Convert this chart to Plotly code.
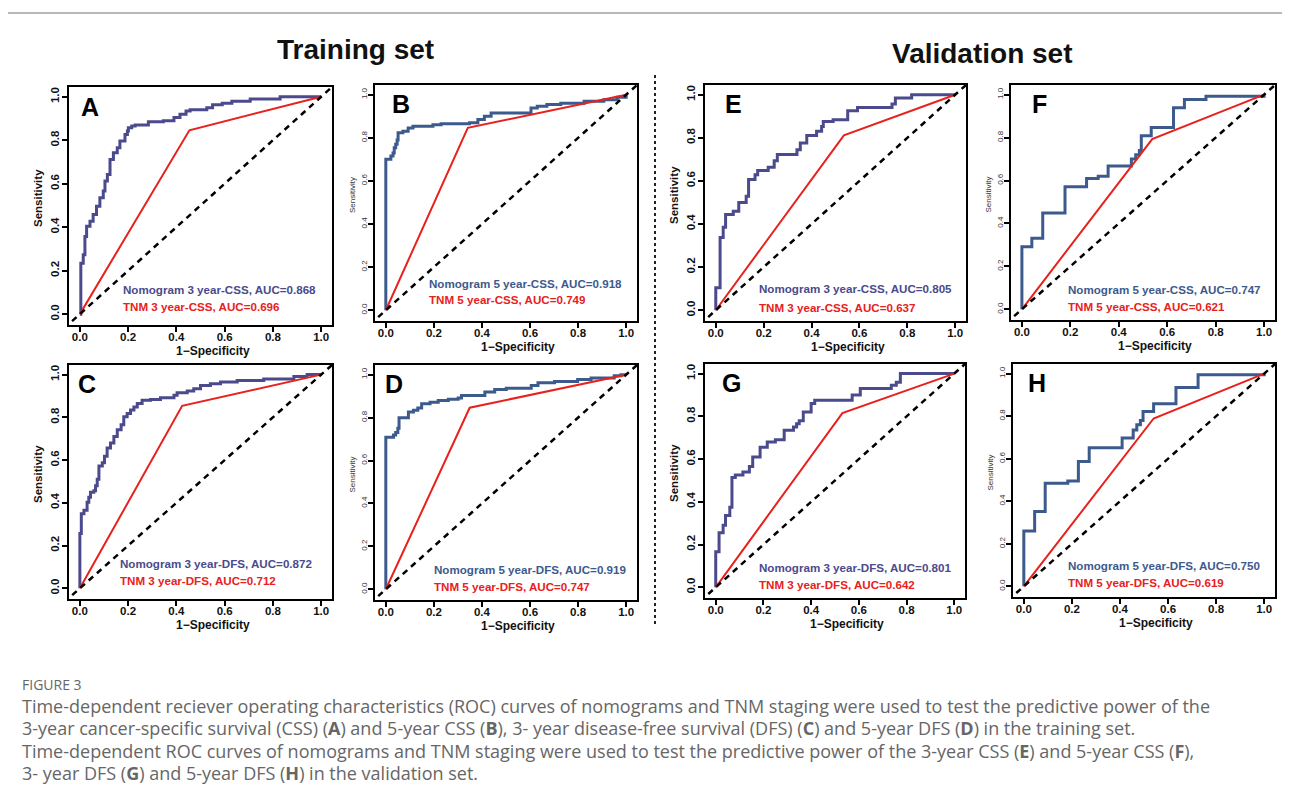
import plotly.graph_objects as go

# ---------------- data ----------------
tick_vals = [0.0, 0.2, 0.4, 0.6, 0.8, 1.0]
tick_text = ["0.0", "0.2", "0.4", "0.6", "0.8", "1.0"]

# Panel A (training, 3-year CSS)
A_nomo_x = [0, 0.004, 0.004, 0.014, 0.021, 0.028, 0.042, 0.055, 0.069, 0.083, 0.097, 0.104, 0.114, 0.125, 0.139,
            0.155, 0.166, 0.187, 0.197, 0.201, 0.215, 0.229, 0.284, 0.346, 0.39, 0.415, 0.44, 0.457, 0.526, 0.55,
            0.59, 0.63, 0.706, 0.83, 1.0]
A_nomo_y = [0, 0.142, 0.234, 0.273, 0.357, 0.404, 0.427, 0.458, 0.496, 0.535, 0.566, 0.612, 0.643, 0.712, 0.743,
            0.766, 0.797, 0.827, 0.843, 0.858, 0.866, 0.87, 0.885, 0.89, 0.905, 0.92, 0.935, 0.94, 0.95, 0.963,
            0.97, 0.98, 0.99, 1.0, 1.0]
A_tnm_x = [0, 0.454, 1.0]
A_tnm_y = [0, 0.846, 1.0]

# Panel B (training, 5-year CSS)
B_nomo_x = [0, 0, 0.021, 0.030, 0.035, 0.041, 0.047, 0.051, 0.071, 0.093, 0.113, 0.196, 0.23, 0.348, 0.383, 0.41,
            0.438, 0.604, 0.63, 0.67, 0.728, 0.825, 0.907, 0.963, 1.0, 1.0]
B_nomo_y = [0, 0.70, 0.715, 0.73, 0.754, 0.77, 0.79, 0.823, 0.83, 0.846, 0.854, 0.86, 0.865, 0.87, 0.885, 0.9,
            0.915, 0.938, 0.946, 0.954, 0.96, 0.97, 0.977, 0.988, 0.99, 1.0]
B_tnm_x = [0, 0.341, 1.0]
B_tnm_y = [0, 0.846, 1.0]

# Panel C (training, 3-year DFS)
C_nomo_x = [0, 0, 0.006, 0.017, 0.030, 0.037, 0.044, 0.058, 0.065, 0.072, 0.079, 0.093, 0.102, 0.113, 0.127,
            0.141, 0.155, 0.171, 0.182, 0.196, 0.210, 0.224, 0.238, 0.258, 0.293, 0.334, 0.39, 0.403, 0.445,
            0.472, 0.5, 0.541, 0.583, 0.652, 0.762, 0.887, 0.942, 1.0]
C_nomo_y = [0, 0.257, 0.349, 0.365, 0.403, 0.426, 0.449, 0.457, 0.48, 0.51, 0.572, 0.588, 0.618, 0.657, 0.68,
            0.711, 0.742, 0.765, 0.803, 0.818, 0.834, 0.849, 0.865, 0.88, 0.883, 0.892, 0.903, 0.915, 0.923,
            0.934, 0.949, 0.957, 0.965, 0.972, 0.98, 0.991, 1.0, 1.0]
C_tnm_x = [0, 0.424, 1.0]
C_tnm_y = [0, 0.854, 1.0]

# Panel D (training, 5-year DFS)
D_nomo_x = [0, 0, 0.032, 0.041, 0.05, 0.055, 0.094, 0.115, 0.133, 0.149, 0.184, 0.218, 0.26, 0.301, 0.315,
            0.412, 0.453, 0.501, 0.605, 0.633, 0.702, 0.798, 0.854, 0.95, 0.978, 1.0]
D_nomo_y = [0, 0.708, 0.719, 0.731, 0.75, 0.799, 0.826, 0.834, 0.845, 0.865, 0.872, 0.88, 0.885, 0.891, 0.903,
            0.919, 0.931, 0.937, 0.949, 0.962, 0.968, 0.977, 0.985, 0.995, 1.0, 1.0]
D_tnm_x = [0, 0.349, 1.0]
D_tnm_y = [0, 0.846, 1.0]

# Panel E (validation, 3-year CSS)
E_nomo_x = [0, 0, 0.018, 0.031, 0.041, 0.073, 0.096, 0.127, 0.137, 0.164, 0.175, 0.219, 0.244, 0.257, 0.339,
            0.353, 0.380, 0.421, 0.442, 0.449, 0.490, 0.551, 0.592, 0.736, 0.750, 0.818, 1.0]
E_nomo_y = [0, 0.104, 0.338, 0.385, 0.444, 0.459, 0.50, 0.529, 0.606, 0.629, 0.648, 0.663, 0.694, 0.722, 0.745,
            0.776, 0.811, 0.83, 0.853, 0.876, 0.884, 0.926, 0.941, 0.957, 0.985, 1.0, 1.0]
E_tnm_x = [0, 0.535, 1.0]
E_tnm_y = [0, 0.811, 1.0]

# Panel F (validation, 5-year CSS)
F_nomo_x = [0, 0, 0.041, 0.086, 0.178, 0.267, 0.315, 0.356, 0.452, 0.47, 0.485, 0.493, 0.534, 0.626, 0.671,
            0.760, 1.0, 1.0]
F_nomo_y = [0, 0.291, 0.331, 0.449, 0.571, 0.609, 0.62, 0.668, 0.70, 0.72, 0.74, 0.809, 0.847, 0.939, 0.977,
            0.992, 0.992, 1.0]
F_tnm_x = [0, 0.538, 1.0]
F_tnm_y = [0, 0.793, 1.0]

# Panel G (validation, 3-year DFS)
G_nomo_x = [0, 0, 0.014, 0.031, 0.041, 0.059, 0.068, 0.082, 0.114, 0.141, 0.155, 0.186, 0.216, 0.25, 0.287,
            0.326, 0.339, 0.35, 0.367, 0.40, 0.415, 0.572, 0.606, 0.736, 0.757, 0.774, 1.0]
G_nomo_y = [0, 0.167, 0.255, 0.29, 0.336, 0.375, 0.514, 0.525, 0.54, 0.565, 0.61, 0.655, 0.68, 0.69, 0.735,
            0.75, 0.765, 0.78, 0.82, 0.86, 0.875, 0.9, 0.93, 0.945, 0.96, 1.0, 1.0]
G_tnm_x = [0, 0.531, 1.0]
G_tnm_y = [0, 0.815, 1.0]

# Panel H (validation, 5-year DFS)
H_nomo_x = [0, 0, 0.045, 0.089, 0.183, 0.227, 0.272, 0.409, 0.455, 0.47, 0.485, 0.496, 0.54, 0.633, 0.725,
            1.0, 1.0]
H_nomo_y = [0, 0.26, 0.352, 0.485, 0.495, 0.587, 0.651, 0.697, 0.735, 0.76, 0.78, 0.822, 0.858, 0.934, 0.995,
            0.995, 1.0]
H_tnm_x = [0, 0.54, 1.0]
H_tnm_y = [0, 0.789, 1.0]

panel_letters = ["A", "B", "C", "D", "E", "F", "G", "H"]
nomo_labels = ["Nomogram 3 year-CSS, AUC=0.868", "Nomogram 5 year-CSS, AUC=0.918",
               "Nomogram 3 year-DFS, AUC=0.872", "Nomogram 5 year-DFS, AUC=0.919",
               "Nomogram 3 year-CSS, AUC=0.805", "Nomogram 5 year-CSS, AUC=0.747",
               "Nomogram 3 year-DFS, AUC=0.801", "Nomogram 5 year-DFS, AUC=0.750"]
tnm_labels = ["TNM 3 year-CSS, AUC=0.696", "TNM 5 year-CSS, AUC=0.749",
              "TNM 3 year-DFS, AUC=0.712", "TNM 5 year-DFS, AUC=0.747",
              "TNM 3 year-CSS, AUC=0.637", "TNM 5 year-CSS, AUC=0.621",
              "TNM 3 year-DFS, AUC=0.642", "TNM 5 year-DFS, AUC=0.619"]

nomo_xs = [A_nomo_x, B_nomo_x, C_nomo_x, D_nomo_x, E_nomo_x, F_nomo_x, G_nomo_x, H_nomo_x]
nomo_ys = [A_nomo_y, B_nomo_y, C_nomo_y, D_nomo_y, E_nomo_y, F_nomo_y, G_nomo_y, H_nomo_y]
tnm_xs = [A_tnm_x, B_tnm_x, C_tnm_x, D_tnm_x, E_tnm_x, F_tnm_x, G_tnm_x, H_tnm_x]
tnm_ys = [A_tnm_y, B_tnm_y, C_tnm_y, D_tnm_y, E_tnm_y, F_tnm_y, G_tnm_y, H_tnm_y]

caption_lines = [
    "Time-dependent reciever operating characteristics (ROC) curves of nomograms and TNM staging were used to test the predictive power of the",
    "3-year cancer-specific survival (CSS) (<b>A</b>) and 5-year CSS (<b>B</b>), 3- year disease-free survival (DFS) (<b>C</b>) and 5-year DFS (<b>D</b>) in the training set.",
    "Time-dependent ROC curves of nomograms and TNM staging were used to test the predictive power of the 3-year CSS (<b>E</b>) and 5-year CSS (<b>F</b>),",
    "3- year DFS (<b>G</b>) and 5-year DFS (<b>H</b>) in the validation set.",
]

# ---------------- layout / style ----------------
OFF = 8                      # page body margin of the browser
W, H = 1290 - OFF, 794 - OFF


def PX(px):
    return (px - OFF) / W


def PY(py):
    return 1 - (py - OFF) / H


FONT = "Liberation Sans, Arial, sans-serif"
# frame boxes in screen pixels: left, top, right, bottom
frames = {
    "A": (69, 87, 332, 325), "B": (375, 85, 637, 321),
    "C": (69, 365, 332, 599), "D": (375, 365, 637, 600),
    "E": (705, 85, 966, 321), "F": (1011, 85, 1275, 320),
    "G": (705, 364, 965, 598), "H": (1013, 364, 1275, 597),
}
big_style = {"A": True, "B": False, "C": True, "D": False, "E": True, "F": False, "G": True, "H": False}
nomo_color = {"A": "#4a4a8c", "C": "#4a4a8c", "E": "#4a4a8c", "G": "#4a4a8c",
              "B": "#3d5a8c", "D": "#3d5a8c", "F": "#3d5a8c", "H": "#3d5a8c"}
RED = "#e8211c"
letter_x = {"A": -0.005, "B": 0.017, "C": -0.018, "D": -0.01, "E": 0.029, "F": 0.032, "G": 0.018, "H": 0.011}
text_pos = {  # x, y of nomogram label, y of TNM label
    "A": (0.169, 0.114, 0.034), "B": (0.173, 0.126, 0.049),
    "C": (0.157, 0.114, 0.037), "D": (0.191, 0.094, 0.015),
    "E": (0.171, 0.100, 0.014), "F": (0.182, 0.092, 0.012),
    "G": (0.171, 0.094, 0.011), "H": (0.176, 0.100, 0.020),
}

fig = go.Figure()
annotations = []
layout = dict(width=W, height=H, margin=dict(l=0, r=0, t=0, b=0),
              paper_bgcolor="white", plot_bgcolor="white", showlegend=False,
              font=dict(family=FONT, color="black"))

for i, key in enumerate(panel_letters):
    n = i + 1
    sfx = "" if n == 1 else str(n)
    xa, ya = "x" + sfx, "y" + sfx
    l, t, r, b = frames[key]
    big = big_style[key]
    layout["xaxis" + sfx] = dict(
        domain=[PX(l), PX(r)], anchor=ya, range=[-0.045, 1.045],
        tickvals=tick_vals, ticktext=tick_text, ticks="outside", ticklen=5, tickwidth=1.5,
        tickcolor="black", showline=True, mirror=True, linecolor="black", linewidth=2,
        showgrid=False, zeroline=False, ticklabelstandoff=-5,
        tickfont=dict(family=FONT, size=11.5, color="#111", weight="bold"))
    layout["yaxis" + sfx] = dict(
        domain=[PY(b), PY(t)], anchor=xa, range=[-0.05, 1.045],
        tickvals=tick_vals, ticktext=tick_text, ticks="outside", ticklen=5, tickwidth=1.5,
        tickcolor="black", showline=True, mirror=True, linecolor="black", linewidth=2,
        showgrid=False, zeroline=False, tickangle=-90, ticklabelstandoff=-2,
        tickfont=(dict(family=FONT, size=11.5, color="#111", weight="bold") if big
                  else dict(family=FONT, size=8, color="#333")))

    # nomogram curve, TNM line, reference diagonal
    fig.add_trace(go.Scatter(x=nomo_xs[i], y=nomo_ys[i], mode="lines", line_shape="hv",
                             line=dict(color=nomo_color[key], width=3), xaxis=xa, yaxis=ya))
    fig.add_trace(go.Scatter(x=tnm_xs[i], y=tnm_ys[i], mode="lines",
                             line=dict(color=RED, width=2), xaxis=xa, yaxis=ya))
    fig.add_trace(go.Scatter(x=[-0.1, 1.1], y=[-0.1, 1.1], mode="lines",
                             line=dict(color="black", width=2.5, dash="6px,5px"), xaxis=xa, yaxis=ya))

    # panel letter
    annotations.append(dict(x=letter_x[key], y=0.955, xref=xa, yref=ya, text="<b>%s</b>" % key,
                            showarrow=False, xanchor="left", yanchor="middle",
                            font=dict(family=FONT, size=25, color="black")))
    tx, ty1, ty2 = text_pos[key]
    annotations.append(dict(x=tx, y=ty1, xref=xa, yref=ya, text="<b>%s</b>" % nomo_labels[i],
                            showarrow=False, xanchor="left", yanchor="middle",
                            font=dict(family=FONT, size=11.6, color=nomo_color[key])))
    annotations.append(dict(x=tx, y=ty2, xref=xa, yref=ya, text="<b>%s</b>" % tnm_labels[i],
                            showarrow=False, xanchor="left", yanchor="middle",
                            font=dict(family=FONT, size=11.6, color=RED)))
    # axis titles
    annotations.append(dict(x=PX((l + r) / 2 + 12), y=PY(b + 26), xref="paper", yref="paper",
                            text="<b>1\u2212Specificity</b>", showarrow=False, xanchor="center",
                            yanchor="middle", font=dict(family=FONT, size=12, color="#111")))
    if big:
        annotations.append(dict(x=PX(l - 31), y=PY((t + b) / 2 - 8), xref="paper", yref="paper",
                                text="<b>Sensitivity</b>", showarrow=False, textangle=-90,
                                xanchor="center", yanchor="middle",
                                font=dict(family=FONT, size=11.5, color="#111")))
    else:
        annotations.append(dict(x=PX(l - 23), y=PY((t + b) / 2 - 8), xref="paper", yref="paper",
                                text="Sensitivity", showarrow=False, textangle=-90,
                                xanchor="center", yanchor="middle",
                                font=dict(family=FONT, size=8, color="#333")))

# set titles
annotations.append(dict(x=PX(355), y=PY(50), xref="paper", yref="paper", text="<b>Training set</b>",
                        showarrow=False, xanchor="center", yanchor="middle",
                        font=dict(family=FONT, size=28, color="#111")))
annotations.append(dict(x=PX(982), y=PY(53), xref="paper", yref="paper", text="<b>Validation set</b>",
                        showarrow=False, xanchor="center", yanchor="middle",
                        font=dict(family=FONT, size=28, color="#111")))

# caption
annotations.append(dict(x=PX(20), y=PY(684), xref="paper", yref="paper", text="FIGURE 3",
                        showarrow=False, xanchor="left", yanchor="middle",
                        font=dict(family="Open Sans, sans-serif", size=14, color="#666")))
for k, line in enumerate(caption_lines):
    annotations.append(dict(x=PX(20), y=PY(706 + k * 22.4), xref="paper", yref="paper", text=line,
                            showarrow=False, xanchor="left", yanchor="middle",
                            font=dict(family="Open Sans, sans-serif", size=18, color="#666")))

layout["annotations"] = annotations
layout["shapes"] = [
    dict(type="line", xref="paper", yref="paper", x0=PX(7), x1=1.0, y0=PY(13), y1=PY(13),
         line=dict(color="#a0a0a0", width=1.5)),
    dict(type="line", xref="paper", yref="paper", x0=PX(7), x1=PX(7), y0=PY(13), y1=0,
         line=dict(color="#a0a0a0", width=1.5)),
    dict(type="line", xref="paper", yref="paper", x0=PX(655), x1=PX(655), y0=PY(75), y1=PY(625),
         line=dict(color="#222", width=2, dash="dot")),
]

fig.update_layout(**layout)
fig.write_html("out.html")
